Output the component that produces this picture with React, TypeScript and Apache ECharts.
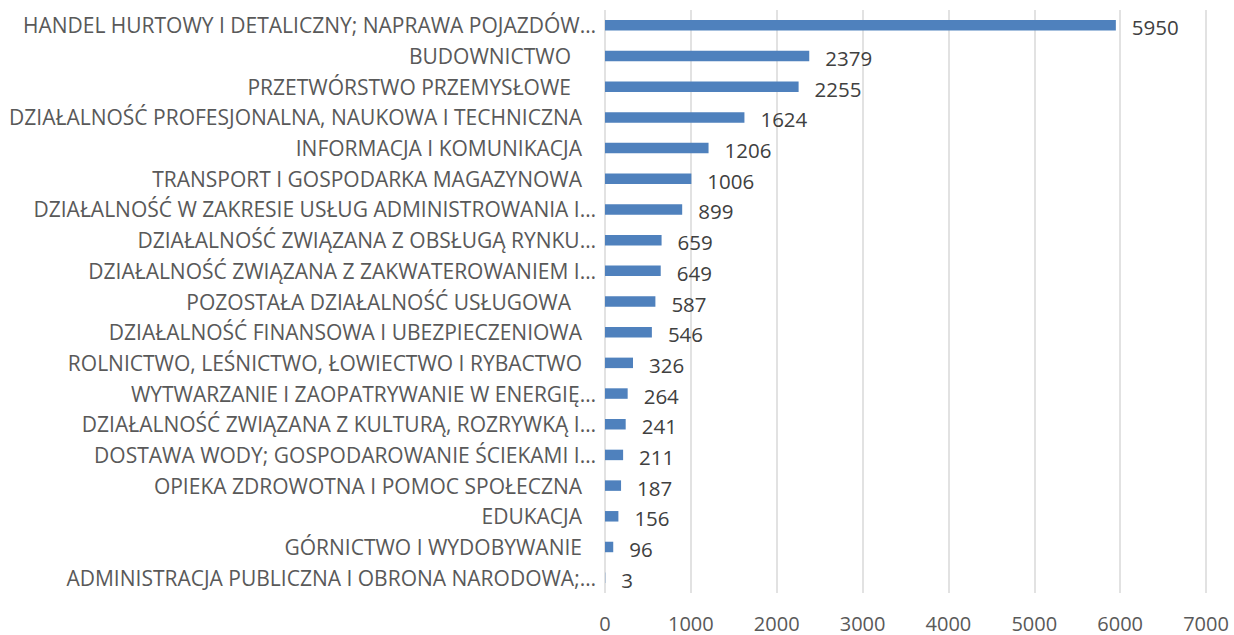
import React, { useEffect, useRef } from "react";
import * as echarts from "echarts";

const categories: string[] = [
  "HANDEL HURTOWY I DETALICZNY; NAPRAWA POJAZDÓW…",
  "BUDOWNICTWO ",
  "PRZETWÓRSTWO PRZEMYSŁOWE ",
  "DZIAŁALNOŚĆ PROFESJONALNA, NAUKOWA I TECHNICZNA",
  "INFORMACJA I KOMUNIKACJA",
  "TRANSPORT I GOSPODARKA MAGAZYNOWA",
  "DZIAŁALNOŚĆ W ZAKRESIE USŁUG ADMINISTROWANIA I…",
  "DZIAŁALNOŚĆ ZWIĄZANA Z OBSŁUGĄ RYNKU…",
  "DZIAŁALNOŚĆ ZWIĄZANA Z ZAKWATEROWANIEM I…",
  "POZOSTAŁA DZIAŁALNOŚĆ USŁUGOWA ",
  "DZIAŁALNOŚĆ FINANSOWA I UBEZPIECZENIOWA",
  "ROLNICTWO, LEŚNICTWO, ŁOWIECTWO I RYBACTWO",
  "WYTWARZANIE I ZAOPATRYWANIE W ENERGIĘ…",
  "DZIAŁALNOŚĆ ZWIĄZANA Z KULTURĄ, ROZRYWKĄ I…",
  "DOSTAWA WODY; GOSPODAROWANIE ŚCIEKAMI I…",
  "OPIEKA ZDROWOTNA I POMOC SPOŁECZNA",
  "EDUKACJA",
  "GÓRNICTWO I WYDOBYWANIE",
  "ADMINISTRACJA PUBLICZNA I OBRONA NARODOWA;…",
];

const values: number[] = [
  5950, 2379, 2255, 1624, 1206, 1006, 899, 659, 649, 587, 546, 326, 264, 241,
  211, 187, 156, 96, 3,
];

const xMin = 0;
const xMax = 7000;
const xInterval = 1000;

const FONT = "'Open Sans', 'Noto Sans', sans-serif";

export default function App() {
  const ref = useRef<HTMLDivElement>(null);

  useEffect(() => {
    if (!ref.current) return;
    const chart = echarts.init(ref.current, undefined, { renderer: "svg" });
    const base = { fontFamily: FONT, fontSize: 21, color: "#595959" };
    chart.setOption({
      animation: false,
      backgroundColor: "#ffffff",
      grid: { left: 605, right: 28, top: 10, bottom: 42, containLabel: false },
      xAxis: {
        type: "value",
        min: xMin,
        max: xMax,
        interval: xInterval,
        axisLine: { show: false },
        axisTick: { show: false },
        splitLine: { show: true, lineStyle: { color: "#d9d9d9", width: 1.5 } },
        axisLabel: {
          ...base,
          fontSize: 20,
          lineHeight: 18,
          margin: 21,
          formatter: (v: number) => String(v),
        },
      },
      yAxis: {
        type: "category",
        data: categories,
        inverse: true,
        axisLine: { show: false },
        axisTick: { show: false },
        splitLine: { show: false },
        axisLabel: {
          ...base,
          margin: 9,
          formatter: (v: string) => {
            if (v.endsWith("…")) return `{e|${v}}`;
            if (v.endsWith(" ")) return `{s|${v.trim()}}`;
            return `{n|${v}}`;
          },
          rich: {
            e: { ...base },
            n: { ...base, padding: [0, 14, 0, 0] },
            s: { ...base, padding: [0, 25, 0, 0] },
          },
        },
      },
      series: [
        {
          type: "bar",
          data: values,
          barWidth: 10.5,
          itemStyle: { color: "#4F81BD" },
          label: {
            show: true,
            position: "right",
            distance: 16,
            offset: [0, 2],
            fontFamily: FONT,
            fontSize: 20.5,
            color: "#404040",
          },
        },
      ],
    });
    return () => chart.dispose();
  }, []);

  return (
    <div
      ref={ref}
      style={{ position: "fixed", left: 0, top: 0, width: 1234, height: 635 }}
    />
  );
}
